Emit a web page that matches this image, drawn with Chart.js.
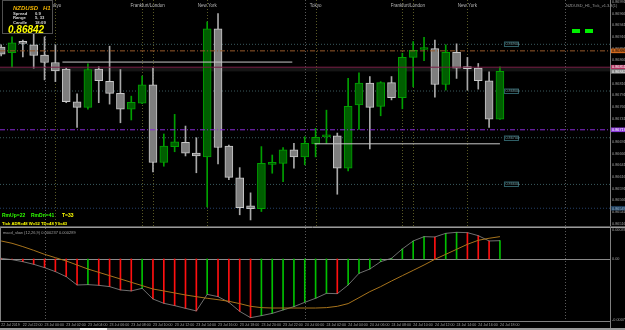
<!DOCTYPE html>
<html>
<head>
<meta charset="utf-8">
<script src="https://cdn.jsdelivr.net/npm/chart.js@4.4.1/dist/chart.umd.min.js"></script>
<style>
  html, body { margin:0; padding:0; background:#000; overflow:hidden; }
  #wrap { position:relative; width:625px; height:330px; background:#000; }
  canvas { position:absolute; left:0; display:block; }
  #c1 { top:0; }
  #c2 { top:227px; }
  #strip { position:absolute; left:0; top:328px; width:625px; height:2px; background:#9a9a9a; }
  #tab { position:absolute; left:80px; top:328px; width:27px; height:2px; background:#f0f0f0; }
</style>
</head>
<body>
<div id="wrap">
  <canvas id="c1" width="625" height="227"></canvas>
  <canvas id="c2" width="625" height="103"></canvas>
  <div id="strip"></div><div id="tab"></div>
</div>
<script>
// ---------------- DATA ----------------
const symbolName = 'NZDUSD';
const timeframe = 'H1';
const infoRows = [['Spread', '0.9'], ['Range', '5, 33'], ['Candle', '18:09']];

const timeLabels = ['22 Jul 2019','22 Jul 22:00','23 Jul 00:00','23 Jul 02:00','23 Jul 04:00','23 Jul 06:00',
  '23 Jul 08:00','23 Jul 10:00','23 Jul 12:00','23 Jul 14:00','23 Jul 16:00','23 Jul 18:00','23 Jul 20:00',
  '23 Jul 22:00','24 Jul 00:00','24 Jul 02:00','24 Jul 04:00','24 Jul 06:00','24 Jul 08:00','24 Jul 10:00',
  '24 Jul 12:00','24 Jul 14:00','24 Jul 16:00','24 Jul 18:00'];

const open  = [0.86894,0.86882,0.86903,0.86899,0.86877,0.86861,0.86847,0.86777,0.86765,0.86847,
               0.86821,0.86795,0.86761,0.86774,0.86813,0.86647,0.86681,0.86690,0.86667,0.86659,
               0.86933,0.86682,0.86614,0.86554,0.86548,0.86643,0.86645,0.86674,0.86659,0.86687,
               0.86702,0.86704,0.86635,0.86770,0.86817,0.86767,0.86818,0.86786,0.86872,0.86889,
               0.86891,0.86814,0.86883,0.86850,0.86849,0.86822,0.86740];
const high  = [0.86899,0.86916,0.86909,0.86924,0.86916,0.86899,0.86849,0.86794,0.86858,0.86852,
               0.86896,0.86846,0.86789,0.86832,0.86849,0.86708,0.86750,0.86725,0.86700,0.86948,
               0.86966,0.86684,0.86636,0.86582,0.86681,0.86663,0.86679,0.86688,0.86702,0.86720,
               0.86759,0.86710,0.86827,0.86839,0.86831,0.86820,0.86831,0.86881,0.86906,0.86915,
               0.86909,0.86899,0.86901,0.86872,0.86859,0.86841,0.86852];
const low   = [0.86875,0.86851,0.86873,0.86849,0.86824,0.86820,0.86775,0.86722,0.86761,0.86775,
               0.86772,0.86732,0.86738,0.86773,0.86627,0.86639,0.86670,0.86661,0.86625,0.86552,
               0.86644,0.86610,0.86535,0.86524,0.86542,0.86624,0.86606,0.86635,0.86642,0.86659,
               0.86688,0.86579,0.86629,0.86718,0.86676,0.86747,0.86781,0.86762,0.86809,0.86865,
               0.86787,0.86802,0.86827,0.86802,0.86804,0.86722,0.86739];
const close = [0.86879,0.86903,0.86902,0.86876,0.86861,0.86843,0.86777,0.86765,0.86846,0.86822,
               0.86795,0.86761,0.86776,0.86813,0.86647,0.86682,0.86691,0.86667,0.86661,0.86933,
               0.86679,0.86615,0.86550,0.86548,0.86645,0.86644,0.86674,0.86659,0.86688,0.86701,
               0.86703,0.86635,0.86767,0.86817,0.86765,0.86818,0.86786,0.86872,0.86887,0.86890,
               0.86814,0.86883,0.86849,0.86848,0.86822,0.86740,0.86842];

const priceTicks = [0.86991,0.86966,0.86941,0.86916,0.86891,0.86866,0.86841,0.86816,0.86791,0.86766,
                    0.86741,0.86716,0.86691,0.86666,0.86641,0.86616,0.86591,0.86566,0.86541,0.86516];

const roundLevels = [0.86900, 0.86800, 0.86700, 0.86600];
const askPrice = 0.86851;
const bidPrice = 0.86842;
const orangeLevel = 0.86886;
const purpleLevel = 0.86717;
const blueLevel = 0.86549;
const segLevelA = [5.65, 26.85, 0.86862];   // from bar, to bar, price
const segLevelB = [28.9, 46.0, 0.86687];

const daySeparators = [4, 28, 52];
const sessionLines = [5, 13, 14, 19, 29, 37, 38, 43];
const sessionNames = ['Tokyo','Frankfurt/London','New York','Tokyo','Frankfurt/London','New York'];
const sessionLabelAt = [5, 13.5, 19, 29, 37.5, 43];

const macdMain = [0.000009,-0.000009,-0.000035,-0.000069,-0.000112,-0.000164,-0.000229,-0.000337,-0.000332,-0.000341,
                  -0.000358,-0.000401,-0.000414,-0.000380,-0.000518,-0.000574,-0.000604,-0.000639,-0.000673,-0.000458,
                  -0.000488,-0.000561,-0.000678,-0.000760,-0.000734,-0.000704,-0.000660,-0.000617,-0.000561,-0.000509,
                  -0.000445,-0.000449,-0.000337,-0.000186,-0.000130,-0.000035,0.000009,0.000130,0.000233,0.000289,
                  0.000285,0.000332,0.000345,0.000341,0.000302,0.000233,0.000237];
const macdSignal = [0.000233,0.000203,0.000160,0.000112,0.000060,0.000017,-0.000026,-0.000078,-0.000130,-0.000173,
                    -0.000216,-0.000259,-0.000302,-0.000345,-0.000389,-0.000414,-0.000440,-0.000466,-0.000488,-0.000509,
                    -0.000527,-0.000548,-0.000578,-0.000613,-0.000630,-0.000635,-0.000635,-0.000635,-0.000635,-0.000635,
                    -0.000630,-0.000613,-0.000578,-0.000501,-0.000423,-0.000358,-0.000285,-0.000216,-0.000147,-0.000078,
                    -0.000004,0.000060,0.000125,0.000190,0.000242,0.000268,0.000289];
const subTicks = [0.000375, 0, -0.000790];
const macdLabel = 'macd_slow (12,26,9) 0.000237 0.000289';
const statsLine1 = [['RmUp=22', 'g'], ['RmDn=41', 'g'], ['T=33', 'y']];
const statsLine2 = 'Tick ADR=48 W=52 TD=48 Y0=43';
const titleText = 'NZDUSD_H1_Tick_v1.3.3(1)';

// ---------------- SETUP ----------------
const FONT = "'Liberation Sans', Arial, sans-serif";
Chart.defaults.font.family = FONT;
const X_MIN = -0.107, X_MAX = 56.15;
const PRICE_MIN = 0.865110, PRICE_MAX = 0.869949;
const SUB_MIN = -0.000803, SUB_MAX = 0.000401;

const idx = open.map((_, i) => i);
const bull = idx.map(i => close[i] >= open[i]);

function hLine(price, x0, x1, color, dash, order, width) {
  return {
    type: 'line',
    data: [{x: x0, y: price}, {x: x1, y: price}],
    borderColor: color, borderWidth: width || 1, borderDash: dash || [],
    pointRadius: 0, fill: false, tension: 0, order: order
  };
}

function vDotted(ctx, x, top, bottom, color) {
  const px = Math.round(x) + 0.5;
  ctx.strokeStyle = color;
  ctx.beginPath(); ctx.moveTo(px, top); ctx.lineTo(px, bottom); ctx.stroke();
}

const mainDecor = {
  id: 'mainDecor',
  beforeDatasetsDraw(chart) {
    const {ctx, chartArea: a, scales: {x, y}} = chart;
    ctx.save();
    const ya = y.getPixelForValue(askPrice), yb = y.getPixelForValue(bidPrice);
    ctx.fillStyle = '#151515';
    ctx.fillRect(a.left, ya, a.width, yb - ya);
    ctx.lineWidth = 1;
    ctx.setLineDash([1, 2]);
    daySeparators.forEach(v => vDotted(ctx, x.getPixelForValue(v), a.top, a.bottom, '#5a5a5a'));
    sessionLines.forEach(v => vDotted(ctx, x.getPixelForValue(v), a.top, a.bottom, '#5a5a26'));
    ctx.restore();
  },
  afterDraw(chart) {
    const {ctx, chartArea: a, scales: {x, y}} = chart;
    ctx.save();
    ctx.setLineDash([]);
    ctx.textBaseline = 'alphabetic';
    // session labels
    ctx.font = '4.5px ' + FONT;
    ctx.fillStyle = '#b8b8b8';
    ctx.textAlign = 'center';
    sessionNames.forEach((n, k) => ctx.fillText(n, x.getPixelForValue(sessionLabelAt[k]), 7));
    // title top right
    ctx.textAlign = 'left';
    ctx.font = '4px ' + FONT;
    ctx.fillStyle = '#9a9a9a';
    ctx.fillText(titleText, 566, 7);
    // green blocks
    ctx.fillStyle = '#00f000';
    ctx.fillRect(572, 29, 8, 4);
    ctx.fillRect(585, 29, 8, 4);
    // info box
    ctx.fillStyle = '#000';
    ctx.fillRect(2, 0, 51, 34);
    ctx.strokeStyle = '#505050'; ctx.lineWidth = 1;
    ctx.strokeRect(2.5, 0.5, 50, 33);
    ctx.font = 'italic bold 6px ' + FONT;
    ctx.fillStyle = '#f2b400';
    ctx.fillText(symbolName, 13, 10);
    ctx.fillText(timeframe, 43, 10);
    ctx.font = 'bold 4.2px ' + FONT;
    ctx.fillStyle = '#d8d8d8';
    infoRows.forEach((r, k) => {
      ctx.fillText(r[0], 13, 14.5 + k * 4.8);
      ctx.fillText(r[1], 35, 14.5 + k * 4.8);
    });
    ctx.font = 'italic bold 10px ' + FONT;
    ctx.fillStyle = '#ffff00';
    ctx.fillText(bidPrice.toFixed(5), 8, 32.5);
    // round level labels
    const lx = x.getPixelForValue(idx.length - 1) + 4;
    roundLevels.forEach(p => {
      const py = Math.round(y.getPixelForValue(p));
      ctx.fillStyle = '#000';
      ctx.fillRect(lx, py - 2.5, 15, 5);
      ctx.strokeStyle = '#2f5f66';
      ctx.strokeRect(lx + 0.5, py - 2, 14, 4.5);
      ctx.fillStyle = '#6f9aa0';
      ctx.font = '3.8px ' + FONT;
      ctx.textBaseline = 'middle';
      ctx.fillText(p.toFixed(5), lx + 1.5, py + 0.3);
    });
    // right axis line
    ctx.strokeStyle = '#808080';
    ctx.beginPath(); ctx.moveTo(a.right + 0.5, 0); ctx.lineTo(a.right + 0.5, chart.height); ctx.stroke();
    // axis price boxes
    const boxes = [[orangeLevel, '#d2691e', '#000'], [askPrice, '#b0305e', '#fff'],
                   [bidPrice, '#7c7c7c', '#fff'], [purpleLevel, '#8a3ad8', '#fff'], [blueLevel, '#1e3c5a', '#9ab8d0']];
    boxes.forEach(b => {
      const py = y.getPixelForValue(b[0]);
      ctx.fillStyle = b[1];
      ctx.fillRect(a.right + 1, py - 2.3, 14, 4.6);
      ctx.fillStyle = b[2];
      ctx.font = '3.8px ' + FONT;
      ctx.textBaseline = 'middle';
      ctx.fillText(b[0].toFixed(5), a.right + 2, py + 0.2);
    });
    // stats text
    ctx.textBaseline = 'alphabetic';
    ctx.font = 'bold 5px ' + FONT;
    const sxs = [2, 31, 62];
    statsLine1.forEach((s, k) => {
      ctx.fillStyle = s[1] === 'g' ? '#30ff00' : '#ffff00';
      ctx.fillText(s[0], sxs[k], 217);
    });
    ctx.font = 'bold 4.2px ' + FONT;
    ctx.fillStyle = '#ffff00';
    ctx.fillText(statsLine2, 2, 225);
    // bottom separator
    ctx.strokeStyle = '#555';
    ctx.beginPath(); ctx.moveTo(0, chart.height - 0.5); ctx.lineTo(chart.width, chart.height - 0.5); ctx.stroke();
    ctx.restore();
  }
};

const wickColors = idx.map(i => bull[i] ? '#00a000' : '#a8a8a8');
const bodyFill = idx.map(i => bull[i] ? '#005e00' : '#7e7e7e');
const bodyEdge = idx.map(i => bull[i] ? '#00a000' : '#c8c8c8');

new Chart(document.getElementById('c1'), {
  type: 'bar',
  data: {
    datasets: [
      {
        type: 'bar', label: 'wick', order: 2, grouped: false,
        data: idx.map(i => ({x: i, y: [low[i], high[i]]})),
        backgroundColor: wickColors, barThickness: 1, maxBarThickness: 1, borderWidth: 0
      },
      {
        type: 'bar', label: 'body', order: 1, grouped: false,
        data: idx.map(i => ({x: i, y: [open[i], close[i]]})),
        backgroundColor: bodyFill, borderColor: bodyEdge, borderWidth: 1,
        borderSkipped: false, barThickness: 8, maxBarThickness: 8, minBarLength: 2
      },
      ...roundLevels.map(p => hLine(p, X_MIN, X_MAX, '#3a5a5e', [1, 2], 3)),
      hLine(blueLevel, X_MIN, X_MAX, '#24406a', [1, 2], 3),
      hLine(orangeLevel, X_MIN, X_MAX, '#9a5a2a', [5, 2, 1, 2], 0),
      hLine(askPrice, X_MIN, X_MAX, '#7a1e46', [], 0),
      hLine(purpleLevel, X_MIN, X_MAX, '#8a2ad8', [5, 2, 1, 2], 0),
      hLine(segLevelA[2], segLevelA[0], segLevelA[1], '#c8c8c8', [], 0),
      hLine(segLevelB[2], segLevelB[0], segLevelB[1], '#c8c8c8', [], 0)
    ]
  },
  options: {
    responsive: false, animation: false, events: [],
    layout: {padding: {left: 0, right: 0, top: 0, bottom: 1}},
    plugins: {legend: {display: false}, tooltip: {enabled: false}},
    scales: {
      x: {type: 'linear', display: false, min: X_MIN, max: X_MAX, offset: false, bounds: 'data'},
      y: {
        position: 'right', min: PRICE_MIN, max: PRICE_MAX, bounds: 'data',
        grid: {display: false, drawTicks: false}, border: {display: false},
        afterBuildTicks: s => { s.ticks = priceTicks.map(v => ({value: v})); },
        afterFit: s => { s.width = 15; s.paddingTop = 0; s.paddingBottom = 0; },
        ticks: {color: '#a0a0a0', font: {size: 3.8}, padding: 2, autoSkip: false,
                callback: v => Number(v).toFixed(5)}
      }
    }
  },
  plugins: [mainDecor]
});

// ---------------- SUB WINDOW ----------------
const histColors = idx.map(i => (i > 0 && macdMain[i] > macdMain[i - 1]) ? '#00c000' : '#ff1010');

const subDecor = {
  id: 'subDecor',
  beforeDatasetsDraw(chart) {
    const {ctx, chartArea: a, scales: {x, y}} = chart;
    ctx.save();
    ctx.lineWidth = 1;
    ctx.setLineDash([1, 2]);
    daySeparators.forEach(v => vDotted(ctx, x.getPixelForValue(v), a.top, a.bottom, '#5a5a5a'));
    ctx.setLineDash([]);
    const zy = Math.round(y.getPixelForValue(0)) + 0.5;
    ctx.strokeStyle = '#8a8a8a';
    ctx.beginPath(); ctx.moveTo(a.left, zy); ctx.lineTo(a.right, zy); ctx.stroke();
    ctx.restore();
  },
  afterDraw(chart) {
    const {ctx, chartArea: a} = chart;
    ctx.save();
    ctx.lineWidth = 1;
    ctx.strokeStyle = '#9a9a9a';
    ctx.beginPath(); ctx.moveTo(0, 0.5); ctx.lineTo(chart.width, 0.5); ctx.stroke();
    ctx.strokeStyle = '#808080';
    ctx.beginPath(); ctx.moveTo(0.5, 0); ctx.lineTo(0.5, a.bottom); ctx.stroke();
    ctx.beginPath(); ctx.moveTo(a.right + 0.5, 0); ctx.lineTo(a.right + 0.5, chart.height); ctx.stroke();
    ctx.beginPath(); ctx.moveTo(0, a.bottom + 0.5); ctx.lineTo(a.right, a.bottom + 0.5); ctx.stroke();
    ctx.font = '4px ' + FONT;
    ctx.fillStyle = '#a0a0a0';
    ctx.textBaseline = 'alphabetic';
    ctx.fillText(macdLabel, 3, 7);
    ctx.restore();
  }
};

new Chart(document.getElementById('c2'), {
  type: 'bar',
  data: {
    datasets: [
      {
        type: 'bar', order: 2, grouped: false,
        data: idx.map(i => ({x: i, y: macdMain[i]})),
        backgroundColor: histColors, barThickness: 1, maxBarThickness: 1, borderWidth: 0
      },
      {
        type: 'line', order: 1,
        data: idx.map(i => ({x: i, y: macdMain[i]})),
        borderColor: '#8c8c8c', borderWidth: 0.8, pointRadius: 0, tension: 0, fill: false
      },
      {
        type: 'line', order: 0,
        data: idx.map(i => ({x: i, y: macdSignal[i]})),
        borderColor: '#a8741c', borderWidth: 1, pointRadius: 0, tension: 0, fill: false
      }
    ]
  },
  options: {
    responsive: false, animation: false, events: [],
    layout: {padding: {left: 0, right: 0, top: 1, bottom: 0}},
    plugins: {legend: {display: false}, tooltip: {enabled: false}},
    scales: {
      x: {
        type: 'linear', min: X_MIN, max: X_MAX, offset: false, bounds: 'data', position: 'bottom',
        grid: {display: false, drawTicks: false}, border: {display: false},
        afterBuildTicks: s => { s.ticks = timeLabels.map((_, k) => ({value: 2 * k})); },
        afterFit: s => { s.height = 9; s.paddingLeft = 0; s.paddingRight = 0; },
        ticks: {autoSkip: false, maxRotation: 0, minRotation: 0, align: 'start', padding: 2,
                color: '#a0a0a0', font: {size: 3.6}, callback: (v, i) => timeLabels[i]}
      },
      y: {
        position: 'right', min: SUB_MIN, max: SUB_MAX, bounds: 'data',
        grid: {display: false, drawTicks: false}, border: {display: false},
        afterBuildTicks: s => { s.ticks = subTicks.map(v => ({value: v})); },
        afterFit: s => { s.width = 15; s.paddingTop = 0; s.paddingBottom = 0; },
        ticks: {color: '#a0a0a0', font: {size: 3.8}, padding: 2, autoSkip: false,
                callback: v => v === 0 ? '0.00' : Number(v).toFixed(6)}
      }
    }
  },
  plugins: [subDecor]
});
</script>
</body>
</html>
